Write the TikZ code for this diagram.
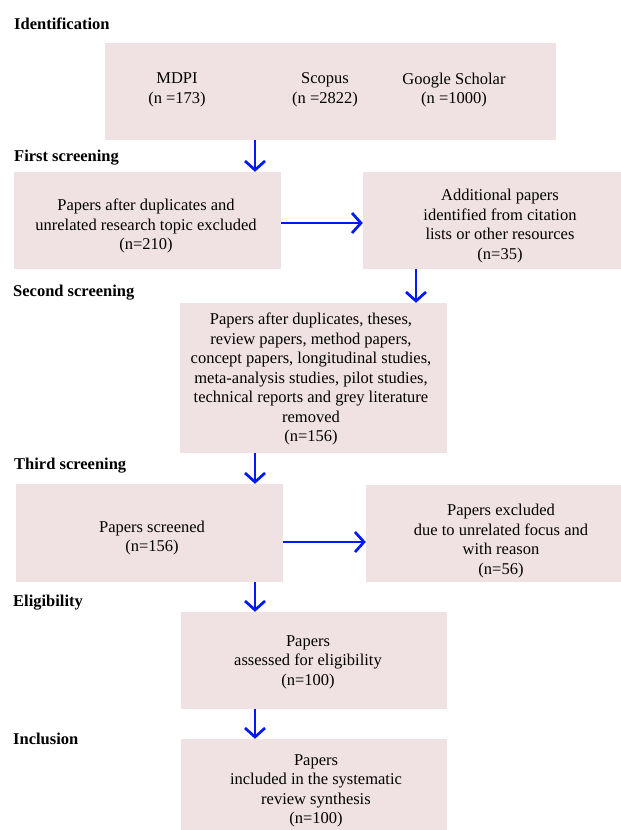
\documentclass[tikz,border=0pt]{standalone}
\usepackage{fontspec}
\setmainfont{Liberation Serif}
\usepackage{xcolor}
\usepackage{tikz}
\usetikzlibrary{arrows.meta, positioning, calc}
\definecolor{boxpink}{RGB}{240,226,226}
\definecolor{flowblue}{RGB}{0,24,255}
\tikzset{
    stage/.style={
        rectangle,
        fill=boxpink,
        draw=none,
        inner sep=0pt
    },
    stagetext/.style={
        align=center,
        inner sep=0pt,
        font=\fontsize{16.5}{19.5}\selectfont
    },
    phase/.style={
        anchor=base west,
        inner sep=0pt,
        font=\fontsize{16.5}{19.5}\selectfont\bfseries
    },
    flow/.style={
        draw=flowblue,
        line width=2.7pt,
        -{Straight Barb[length=9pt,width=20pt]}
    }
}
\begin{document}
\begin{tikzpicture}[x=1pt, y=-1pt]
\useasboundingbox (0,0) rectangle (621,830);

% Phase labels
\node[phase] (l_ident) at (14,29) {Identification};
\node[phase] (l_first) at (14,161) {First screening};
\node[phase] (l_second) at (13,296) {Second screening};
\node[phase] (l_third) at (14,469) {Third screening};
\node[phase] (l_elig) at (13,606) {Eligibility};
\node[phase] (l_incl) at (13,744) {Inclusion};

% Identification
\node[stage, minimum width=451pt, minimum height=97pt] (ident) at (330,91.5) {};
\node[stagetext] (mdpi) at (177,90) {MDPI\\(n =173)};
\node[stagetext] (scopus) at (325,90) {Scopus\\(n =2822)};
\node[stagetext] (gscholar) at (454,90) {Google Scholar\\(n =1000)};

% First screening
\node[stage, minimum width=267pt, minimum height=97pt] (scr1) at (147.5,220.5) {};
\node[stagetext] (scr1_t) at (146,226)
    {Papers after duplicates and\\unrelated research topic excluded\\(n=210)};
\node[stage, minimum width=258pt, minimum height=97pt] (add) at (492,220.5) {};
\node[stagetext] (add_t) at (500,226)
    {Additional papers\\identified from citation\\lists or other resources\\(n=35)};

% Second screening
\node[stage, minimum width=267pt, minimum height=150pt] (scr2) at (313.5,378) {};
\node[stagetext] (scr2_t) at (311,379)
    {Papers after duplicates, theses,\\review papers, method papers,\\concept papers, longitudinal studies,\\meta-analysis studies, pilot studies,\\technical reports and grey literature\\removed\\(n=156)};

% Third screening
\node[stage, minimum width=267pt, minimum height=98pt] (scr3) at (149.5,533) {};
\node[stagetext] (scr3_t) at (152,538) {Papers screened\\(n=156)};
\node[stage, minimum width=255pt, minimum height=97pt] (excl) at (493.5,533) {};
\node[stagetext] (excl_t) at (501,541)
    {Papers excluded\\due to unrelated focus and\\with reason\\(n=56)};

% Eligibility
\node[stage, minimum width=266pt, minimum height=97pt] (elig) at (314,660.5) {};
\node[stagetext] (elig_t) at (308,662)
    {Papers\\assessed for eligibility\\(n=100)};

% Inclusion
\node[stage, minimum width=266pt, minimum height=92pt] (incl) at (314,785) {};
\node[stagetext] (incl_t) at (316,791)
    {Papers\\included in the systematic\\review synthesis\\(n=100)};

% Arrows
\coordinate (ax) at (255,0);
\coordinate (bx) at (416,0);
\draw[flow] (ident.south -| ax) -- (scr1.north -| ax);
\draw[flow] ([yshift=-2.5pt]scr1.east) -- ([yshift=-2.5pt]scr1.east -| add.west);
\draw[flow] (add.south -| bx) -- (scr2.north -| bx);
\draw[flow] (scr2.south -| ax) -- (scr3.north -| ax);
\draw[flow] ([yshift=-9pt]scr3.east) -- ([yshift=-9pt]scr3.east -| excl.west);
\draw[flow] (scr3.south -| ax) -- (elig.north -| ax);
\draw[flow] (elig.south -| ax) -- (incl.north -| ax);

\end{tikzpicture}
\end{document}
